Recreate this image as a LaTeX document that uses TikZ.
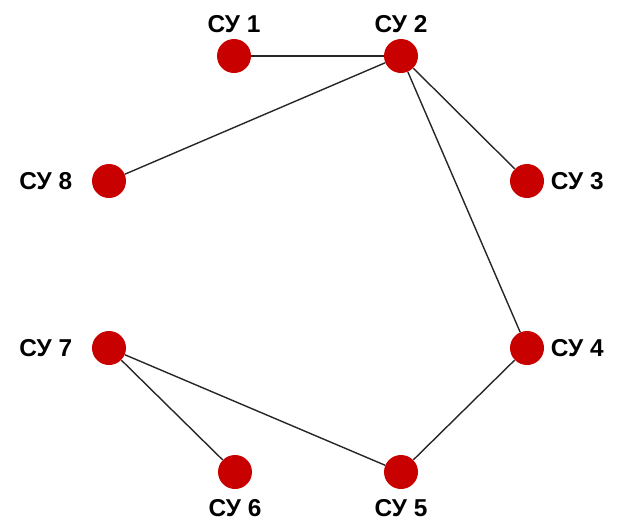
\documentclass[tikz,border=0pt]{standalone}
\usepackage{fontspec}
\setmainfont{Liberation Sans}
\usetikzlibrary{positioning}
\definecolor{UnitRed}{RGB}{200,0,0}
\tikzset{
  unit/.style={circle, fill=UnitRed, minimum size=17pt, inner sep=0pt},
  unitlabel/.style={inner sep=0pt, font=\fontsize{12.2}{14}\selectfont\bfseries},
  link/.style={draw=black!85, line width=0.7pt}
}

\begin{document}
\begin{tikzpicture}[x=0.5pt,y=-0.5pt]
  \useasboundingbox (0,0) rectangle (617,525);
  % control units around the ring
  \node[unit] (cu1) at (234,56) {};
  \node[unit] (cu2) at (401,56) {};
  \node[unit] (cu3) at (527,181) {};
  \node[unit] (cu4) at (527,348) {};
  \node[unit] (cu5) at (401,472) {};
  \node[unit] (cu6) at (235,472) {};
  \node[unit] (cu7) at (109,348) {};
  \node[unit] (cu8) at (109,181) {};
  % names
  \node[unitlabel, above=2.5pt of cu1] (name1) {СУ 1};
  \node[unitlabel, above=2.5pt of cu2] (name2) {СУ 2};
  \node[unitlabel, right=3pt of cu3] (name3) {СУ 3};
  \node[unitlabel, right=3pt of cu4] (name4) {СУ 4};
  \node[unitlabel, below=5pt of cu5] (name5) {СУ 5};
  \node[unitlabel, below=5pt of cu6] (name6) {СУ 6};
  \node[unitlabel, left=9.5pt of cu7] (name7) {СУ 7};
  \node[unitlabel, left=9.5pt of cu8] (name8) {СУ 8};
  % links
  \draw[link] (cu1) -- (cu2);
  \draw[link] (cu2) -- (cu8);
  \draw[link] (cu2) -- (cu3);
  \draw[link] (cu2) -- (cu4);
  \draw[link] (cu4) -- (cu5);
  \draw[link] (cu5) -- (cu7);
  \draw[link] (cu7) -- (cu6);
\end{tikzpicture}
\end{document}
